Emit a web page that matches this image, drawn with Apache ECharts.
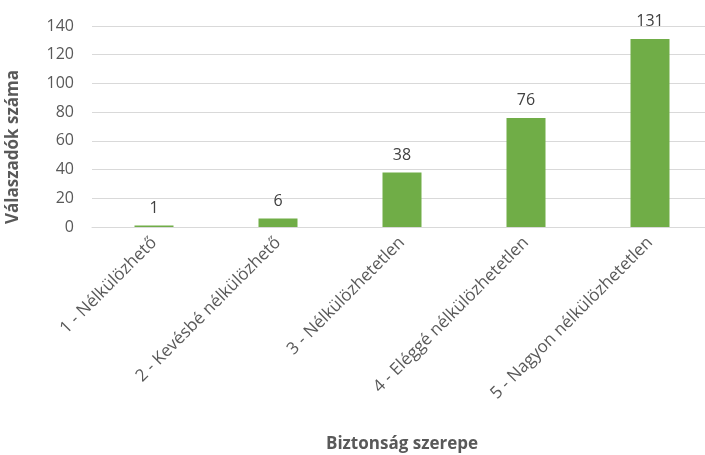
<!DOCTYPE html>
<html>
<head>
<meta charset="utf-8">
<script src="https://cdn.jsdelivr.net/npm/echarts@6/dist/echarts.min.js"></script>
<style>
  html, body { margin: 0; padding: 0; background: #fff; }
  #chart { width: 705px; height: 455px; }
</style>
</head>
<body>
<div id="chart"></div>
<script>
// Survey answers: how important is security
const categories = [
  '1 - Nélkülözhető',
  '2 - Kevésbé nélkülözhető',
  '3 - Nélkülözhetetlen',
  '4 - Eléggé nélkülözhetetlen',
  '5 - Nagyon nélkülözhetetlen'
];
const counts = [1, 6, 38, 76, 131];
const yTicks = { min: 0, max: 140, interval: 20 };

const FONT = '"Open Sans", "Noto Sans", sans-serif';

const chart = echarts.init(document.getElementById('chart'), null, { renderer: 'canvas' });
chart.setOption({
  animation: false,
  backgroundColor: '#ffffff',
  grid: { left: 92, top: 26, width: 620, height: 201, containLabel: false, outerBoundsMode: 'none' },
  xAxis: {
    type: 'category',
    data: categories,
    name: 'Biztonság szerepe',
    nameLocation: 'middle',
    nameGap: 209,
    nameTextStyle: { fontFamily: FONT, fontSize: 17, fontWeight: 'bold', color: '#595959' },
    axisLine: { lineStyle: { color: '#d9d9d9', width: 1 } },
    axisTick: { show: false },
    axisLabel: {
      rotate: 45,
      interval: 0,
      margin: 13,
      fontFamily: FONT,
      fontSize: 17,
      color: '#595959'
    }
  },
  yAxis: {
    type: 'value',
    min: yTicks.min,
    max: yTicks.max,
    interval: yTicks.interval,
    axisLine: { show: false },
    axisTick: { show: false },
    splitLine: { lineStyle: { color: '#d9d9d9', width: 1 } },
    axisLabel: { fontFamily: FONT, fontSize: 16, color: '#595959', margin: 18 }
  },
  graphic: [{
    type: 'text',
    left: 5,
    top: 70,
    rotation: Math.PI / 2,
    style: {
      text: 'Válaszadók száma',
      font: 'bold 17px ' + FONT,
      fill: '#595959'
    }
  }],
  series: [{
    type: 'bar',
    data: counts,
    barWidth: 39,
    itemStyle: { color: '#70ad47' },
    label: {
      show: true,
      position: 'top',
      distance: 9,
      fontFamily: FONT,
      fontSize: 16,
      color: '#404040'
    }
  }]
});
</script>
</body>
</html>
